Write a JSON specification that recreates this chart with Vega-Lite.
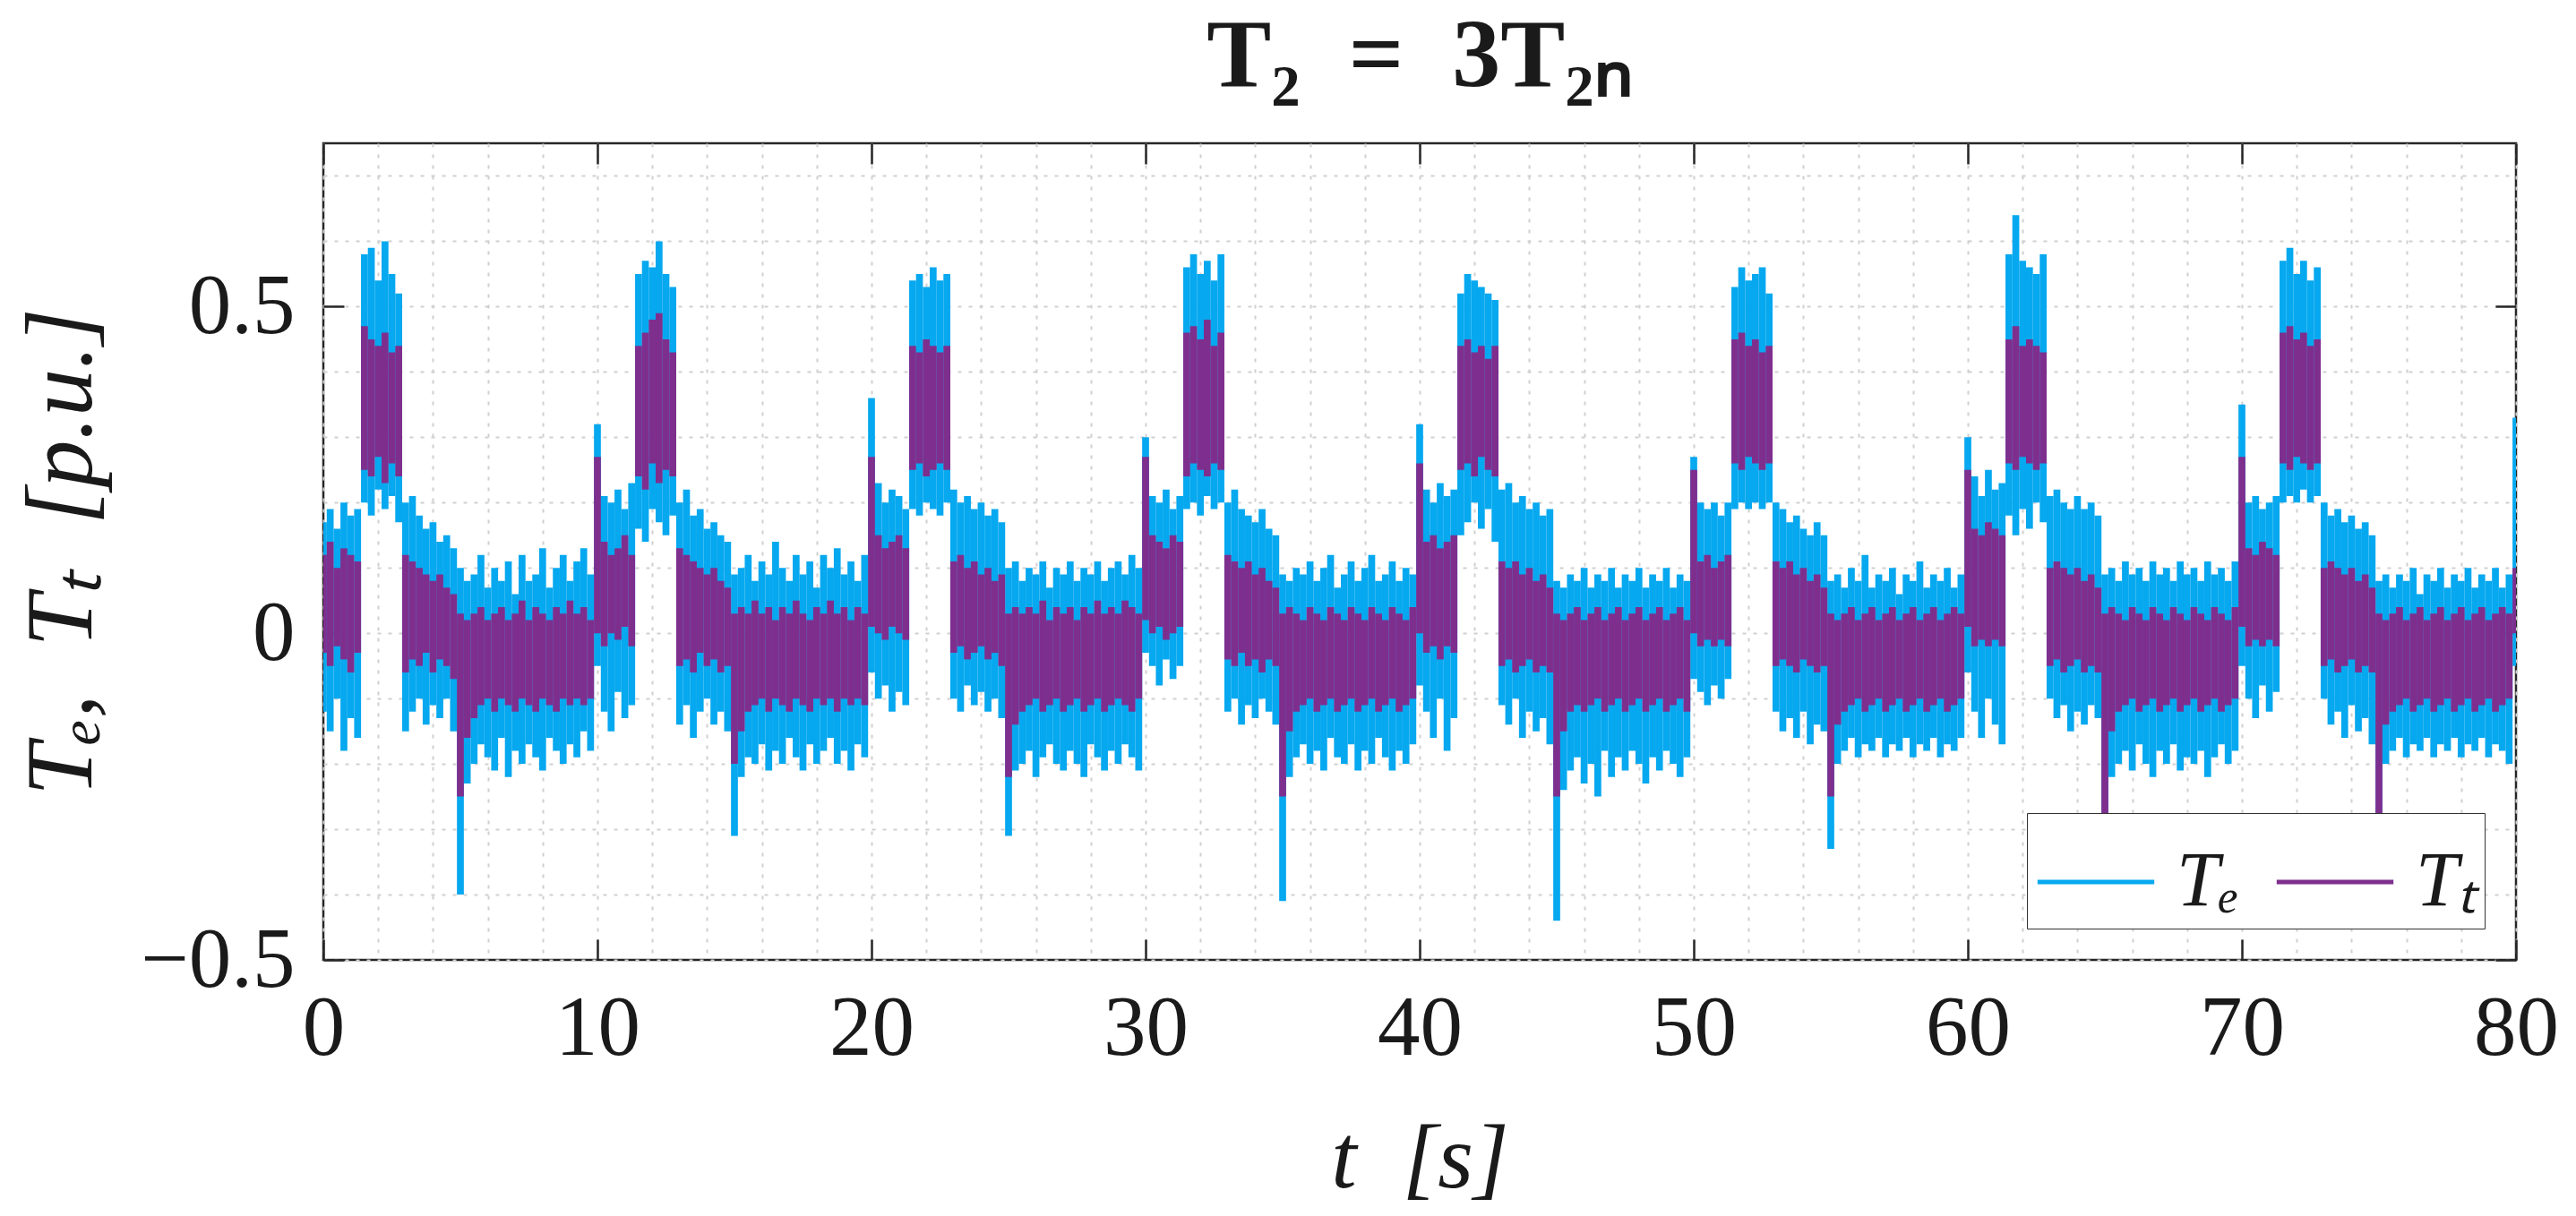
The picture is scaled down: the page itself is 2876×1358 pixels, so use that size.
{
  "$schema": "https://vega.github.io/schema/vega-lite/v6.json",
  "description": "Te and Tt torque traces, T2 = 3T2N",
  "width": 2448,
  "height": 912,
  "autosize": {"type": "none"},
  "padding": {"left": 361, "top": 160, "right": 67, "bottom": 286},
  "background": "white",
  "config": {
    "view": {"stroke": "#262626", "strokeWidth": 2.5},
    "font": "Liberation Serif"
  },
  "title": {
    "text": "T₂\u00a0\u00a0=\u00a0\u00a03T₂ₙ",
    "font": "Liberation Serif",
    "fontSize": 108,
    "fontWeight": "bold",
    "color": "#1a1a1a",
    "anchor": "middle",
    "frame": "group",
    "offset": 30
  },
  "data": {
    "values": [
      {"t":0,"a":-0.12,"b":0.17,"c":-0.03,"d":0.12},
      {"t":0.25,"a":-0.15,"b":0.19,"c":-0.05,"d":0.14},
      {"t":0.5,"a":-0.1,"b":0.16,"c":-0.02,"d":0.1},
      {"t":0.75,"a":-0.18,"b":0.2,"c":-0.04,"d":0.13},
      {"t":1,"a":-0.13,"b":0.18,"c":-0.06,"d":0.12},
      {"t":1.25,"a":-0.16,"b":0.19,"c":-0.03,"d":0.11},
      {"t":1.5,"a":0.2,"b":0.58,"c":0.25,"d":0.47},
      {"t":1.75,"a":0.18,"b":0.59,"c":0.24,"d":0.45},
      {"t":2,"a":0.22,"b":0.54,"c":0.27,"d":0.44},
      {"t":2.25,"a":0.19,"b":0.6,"c":0.23,"d":0.46},
      {"t":2.5,"a":0.21,"b":0.55,"c":0.26,"d":0.43},
      {"t":2.75,"a":0.17,"b":0.52,"c":0.24,"d":0.44},
      {"t":3,"a":-0.15,"b":0.2,"c":-0.06,"d":0.12},
      {"t":3.25,"a":-0.12,"b":0.21,"c":-0.04,"d":0.11},
      {"t":3.5,"a":-0.1,"b":0.18,"c":-0.05,"d":0.1},
      {"t":3.75,"a":-0.14,"b":0.16,"c":-0.03,"d":0.09},
      {"t":4,"a":-0.11,"b":0.17,"c":-0.06,"d":0.08},
      {"t":4.25,"a":-0.13,"b":0.14,"c":-0.04,"d":0.09},
      {"t":4.5,"a":-0.1,"b":0.15,"c":-0.05,"d":0.07},
      {"t":4.75,"a":-0.15,"b":0.13,"c":-0.07,"d":0.06},
      {"t":5,"a":-0.4,"b":0.1,"c":-0.25,"d":0.03},
      {"t":5.25,"a":-0.23,"b":0.08,"c":-0.16,"d":0.02},
      {"t":5.5,"a":-0.2,"b":0.09,"c":-0.13,"d":0.03},
      {"t":5.75,"a":-0.17,"b":0.12,"c":-0.11,"d":0.04},
      {"t":6,"a":-0.19,"b":0.07,"c":-0.1,"d":0.02},
      {"t":6.25,"a":-0.21,"b":0.1,"c":-0.12,"d":0.03},
      {"t":6.5,"a":-0.16,"b":0.08,"c":-0.1,"d":0.04},
      {"t":6.75,"a":-0.22,"b":0.11,"c":-0.11,"d":0.02},
      {"t":7,"a":-0.18,"b":0.06,"c":-0.12,"d":0.03},
      {"t":7.25,"a":-0.2,"b":0.12,"c":-0.1,"d":0.05},
      {"t":7.5,"a":-0.17,"b":0.08,"c":-0.11,"d":0.02},
      {"t":7.75,"a":-0.19,"b":0.09,"c":-0.12,"d":0.04},
      {"t":8,"a":-0.21,"b":0.13,"c":-0.1,"d":0.03},
      {"t":8.25,"a":-0.16,"b":0.07,"c":-0.11,"d":0.02},
      {"t":8.5,"a":-0.18,"b":0.1,"c":-0.12,"d":0.04},
      {"t":8.75,"a":-0.2,"b":0.12,"c":-0.1,"d":0.03},
      {"t":9,"a":-0.17,"b":0.08,"c":-0.11,"d":0.05},
      {"t":9.25,"a":-0.19,"b":0.11,"c":-0.1,"d":0.03},
      {"t":9.5,"a":-0.15,"b":0.13,"c":-0.11,"d":0.04},
      {"t":9.75,"a":-0.18,"b":0.09,"c":-0.1,"d":0.02},
      {"t":10,"a":-0.05,"b":0.32,"c":0,"d":0.27},
      {"t":10.25,"a":-0.12,"b":0.21,"c":-0.02,"d":0.14},
      {"t":10.5,"a":-0.15,"b":0.2,"c":0,"d":0.12},
      {"t":10.75,"a":-0.09,"b":0.22,"c":-0.01,"d":0.13},
      {"t":11,"a":-0.13,"b":0.19,"c":0.01,"d":0.15},
      {"t":11.25,"a":-0.11,"b":0.23,"c":-0.02,"d":0.12},
      {"t":11.5,"a":0.16,"b":0.55,"c":0.24,"d":0.44},
      {"t":11.75,"a":0.14,"b":0.57,"c":0.22,"d":0.46},
      {"t":12,"a":0.19,"b":0.56,"c":0.26,"d":0.48},
      {"t":12.25,"a":0.17,"b":0.6,"c":0.23,"d":0.49},
      {"t":12.5,"a":0.15,"b":0.55,"c":0.25,"d":0.45},
      {"t":12.75,"a":0.18,"b":0.53,"c":0.24,"d":0.43},
      {"t":13,"a":-0.14,"b":0.2,"c":-0.05,"d":0.13},
      {"t":13.25,"a":-0.11,"b":0.22,"c":-0.04,"d":0.12},
      {"t":13.5,"a":-0.16,"b":0.18,"c":-0.06,"d":0.11},
      {"t":13.75,"a":-0.12,"b":0.19,"c":-0.03,"d":0.1},
      {"t":14,"a":-0.1,"b":0.16,"c":-0.05,"d":0.09},
      {"t":14.25,"a":-0.14,"b":0.17,"c":-0.04,"d":0.1},
      {"t":14.5,"a":-0.12,"b":0.15,"c":-0.06,"d":0.08},
      {"t":14.75,"a":-0.15,"b":0.14,"c":-0.05,"d":0.07},
      {"t":15,"a":-0.31,"b":0.09,"c":-0.2,"d":0.03},
      {"t":15.25,"a":-0.22,"b":0.1,"c":-0.15,"d":0.04},
      {"t":15.5,"a":-0.19,"b":0.12,"c":-0.12,"d":0.03},
      {"t":15.75,"a":-0.2,"b":0.08,"c":-0.11,"d":0.05},
      {"t":16,"a":-0.17,"b":0.11,"c":-0.1,"d":0.03},
      {"t":16.25,"a":-0.21,"b":0.09,"c":-0.12,"d":0.04},
      {"t":16.5,"a":-0.18,"b":0.14,"c":-0.1,"d":0.02},
      {"t":16.75,"a":-0.2,"b":0.1,"c":-0.11,"d":0.04},
      {"t":17,"a":-0.16,"b":0.08,"c":-0.12,"d":0.03},
      {"t":17.25,"a":-0.19,"b":0.12,"c":-0.1,"d":0.05},
      {"t":17.5,"a":-0.21,"b":0.09,"c":-0.11,"d":0.03},
      {"t":17.75,"a":-0.17,"b":0.11,"c":-0.12,"d":0.02},
      {"t":18,"a":-0.2,"b":0.07,"c":-0.1,"d":0.04},
      {"t":18.25,"a":-0.18,"b":0.12,"c":-0.11,"d":0.03},
      {"t":18.5,"a":-0.16,"b":0.1,"c":-0.1,"d":0.05},
      {"t":18.75,"a":-0.2,"b":0.13,"c":-0.12,"d":0.03},
      {"t":19,"a":-0.18,"b":0.09,"c":-0.1,"d":0.04},
      {"t":19.25,"a":-0.21,"b":0.11,"c":-0.11,"d":0.02},
      {"t":19.5,"a":-0.17,"b":0.08,"c":-0.1,"d":0.04},
      {"t":19.75,"a":-0.19,"b":0.12,"c":-0.11,"d":0.03},
      {"t":20,"a":-0.06,"b":0.36,"c":0.01,"d":0.27},
      {"t":20.25,"a":-0.1,"b":0.23,"c":0,"d":0.15},
      {"t":20.5,"a":-0.08,"b":0.2,"c":-0.01,"d":0.13},
      {"t":20.75,"a":-0.12,"b":0.22,"c":0.01,"d":0.14},
      {"t":21,"a":-0.09,"b":0.21,"c":0,"d":0.15},
      {"t":21.25,"a":-0.11,"b":0.19,"c":-0.01,"d":0.13},
      {"t":21.5,"a":0.19,"b":0.54,"c":0.25,"d":0.44},
      {"t":21.75,"a":0.18,"b":0.55,"c":0.26,"d":0.43},
      {"t":22,"a":0.2,"b":0.53,"c":0.24,"d":0.45},
      {"t":22.25,"a":0.19,"b":0.56,"c":0.25,"d":0.44},
      {"t":22.5,"a":0.18,"b":0.54,"c":0.26,"d":0.43},
      {"t":22.75,"a":0.2,"b":0.55,"c":0.25,"d":0.44},
      {"t":23,"a":-0.1,"b":0.22,"c":-0.03,"d":0.11},
      {"t":23.25,"a":-0.12,"b":0.2,"c":-0.02,"d":0.12},
      {"t":23.5,"a":-0.08,"b":0.21,"c":-0.04,"d":0.1},
      {"t":23.75,"a":-0.11,"b":0.19,"c":-0.03,"d":0.11},
      {"t":24,"a":-0.09,"b":0.2,"c":-0.02,"d":0.09},
      {"t":24.25,"a":-0.12,"b":0.18,"c":-0.04,"d":0.1},
      {"t":24.5,"a":-0.1,"b":0.19,"c":-0.03,"d":0.08},
      {"t":24.75,"a":-0.13,"b":0.17,"c":-0.05,"d":0.09},
      {"t":25,"a":-0.31,"b":0.1,"c":-0.22,"d":0.03},
      {"t":25.25,"a":-0.21,"b":0.11,"c":-0.14,"d":0.04},
      {"t":25.5,"a":-0.2,"b":0.08,"c":-0.12,"d":0.03},
      {"t":25.75,"a":-0.18,"b":0.1,"c":-0.11,"d":0.04},
      {"t":26,"a":-0.22,"b":0.09,"c":-0.1,"d":0.03},
      {"t":26.25,"a":-0.19,"b":0.11,"c":-0.12,"d":0.05},
      {"t":26.5,"a":-0.17,"b":0.07,"c":-0.11,"d":0.02},
      {"t":26.75,"a":-0.2,"b":0.1,"c":-0.1,"d":0.04},
      {"t":27,"a":-0.21,"b":0.09,"c":-0.12,"d":0.03},
      {"t":27.25,"a":-0.18,"b":0.11,"c":-0.11,"d":0.04},
      {"t":27.5,"a":-0.2,"b":0.08,"c":-0.1,"d":0.02},
      {"t":27.75,"a":-0.22,"b":0.1,"c":-0.12,"d":0.04},
      {"t":28,"a":-0.17,"b":0.09,"c":-0.11,"d":0.03},
      {"t":28.25,"a":-0.19,"b":0.11,"c":-0.1,"d":0.05},
      {"t":28.5,"a":-0.21,"b":0.08,"c":-0.12,"d":0.03},
      {"t":28.75,"a":-0.18,"b":0.1,"c":-0.11,"d":0.04},
      {"t":29,"a":-0.2,"b":0.11,"c":-0.1,"d":0.03},
      {"t":29.25,"a":-0.17,"b":0.09,"c":-0.11,"d":0.05},
      {"t":29.5,"a":-0.19,"b":0.12,"c":-0.12,"d":0.04},
      {"t":29.75,"a":-0.21,"b":0.1,"c":-0.1,"d":0.03},
      {"t":30,"a":-0.03,"b":0.3,"c":0.02,"d":0.27},
      {"t":30.25,"a":-0.05,"b":0.21,"c":0,"d":0.15},
      {"t":30.5,"a":-0.08,"b":0.2,"c":0.01,"d":0.14},
      {"t":30.75,"a":-0.04,"b":0.22,"c":-0.01,"d":0.13},
      {"t":31,"a":-0.07,"b":0.19,"c":0,"d":0.15},
      {"t":31.25,"a":-0.05,"b":0.21,"c":0.01,"d":0.14},
      {"t":31.5,"a":0.19,"b":0.56,"c":0.24,"d":0.46},
      {"t":31.75,"a":0.2,"b":0.58,"c":0.26,"d":0.47},
      {"t":32,"a":0.18,"b":0.55,"c":0.25,"d":0.45},
      {"t":32.25,"a":0.21,"b":0.57,"c":0.24,"d":0.48},
      {"t":32.5,"a":0.19,"b":0.54,"c":0.26,"d":0.44},
      {"t":32.75,"a":0.2,"b":0.58,"c":0.25,"d":0.46},
      {"t":33,"a":-0.12,"b":0.2,"c":-0.04,"d":0.12},
      {"t":33.25,"a":-0.1,"b":0.22,"c":-0.05,"d":0.11},
      {"t":33.5,"a":-0.14,"b":0.19,"c":-0.03,"d":0.1},
      {"t":33.75,"a":-0.11,"b":0.18,"c":-0.05,"d":0.11},
      {"t":34,"a":-0.13,"b":0.17,"c":-0.04,"d":0.09},
      {"t":34.25,"a":-0.1,"b":0.19,"c":-0.06,"d":0.1},
      {"t":34.5,"a":-0.12,"b":0.16,"c":-0.04,"d":0.08},
      {"t":34.75,"a":-0.14,"b":0.15,"c":-0.05,"d":0.07},
      {"t":35,"a":-0.41,"b":0.09,"c":-0.25,"d":0.03},
      {"t":35.25,"a":-0.22,"b":0.08,"c":-0.15,"d":0.04},
      {"t":35.5,"a":-0.19,"b":0.1,"c":-0.12,"d":0.03},
      {"t":35.75,"a":-0.17,"b":0.09,"c":-0.11,"d":0.02},
      {"t":36,"a":-0.2,"b":0.11,"c":-0.1,"d":0.04},
      {"t":36.25,"a":-0.18,"b":0.08,"c":-0.12,"d":0.03},
      {"t":36.5,"a":-0.21,"b":0.1,"c":-0.11,"d":0.02},
      {"t":36.75,"a":-0.16,"b":0.12,"c":-0.1,"d":0.04},
      {"t":37,"a":-0.19,"b":0.07,"c":-0.12,"d":0.03},
      {"t":37.25,"a":-0.2,"b":0.09,"c":-0.11,"d":0.02},
      {"t":37.5,"a":-0.17,"b":0.11,"c":-0.1,"d":0.04},
      {"t":37.75,"a":-0.21,"b":0.08,"c":-0.12,"d":0.03},
      {"t":38,"a":-0.18,"b":0.1,"c":-0.11,"d":0.02},
      {"t":38.25,"a":-0.2,"b":0.12,"c":-0.1,"d":0.04},
      {"t":38.5,"a":-0.16,"b":0.08,"c":-0.12,"d":0.03},
      {"t":38.75,"a":-0.19,"b":0.09,"c":-0.11,"d":0.02},
      {"t":39,"a":-0.21,"b":0.11,"c":-0.1,"d":0.04},
      {"t":39.25,"a":-0.18,"b":0.08,"c":-0.12,"d":0.03},
      {"t":39.5,"a":-0.2,"b":0.1,"c":-0.11,"d":0.02},
      {"t":39.75,"a":-0.17,"b":0.09,"c":-0.1,"d":0.04},
      {"t":40,"a":-0.08,"b":0.32,"c":0,"d":0.26},
      {"t":40.25,"a":-0.12,"b":0.22,"c":-0.03,"d":0.14},
      {"t":40.5,"a":-0.16,"b":0.2,"c":-0.02,"d":0.15},
      {"t":40.75,"a":-0.1,"b":0.23,"c":-0.04,"d":0.13},
      {"t":41,"a":-0.18,"b":0.21,"c":-0.02,"d":0.14},
      {"t":41.25,"a":-0.13,"b":0.22,"c":-0.03,"d":0.15},
      {"t":41.5,"a":0.15,"b":0.52,"c":0.25,"d":0.44},
      {"t":41.75,"a":0.17,"b":0.55,"c":0.26,"d":0.45},
      {"t":42,"a":0.2,"b":0.54,"c":0.24,"d":0.43},
      {"t":42.25,"a":0.16,"b":0.53,"c":0.27,"d":0.44},
      {"t":42.5,"a":0.19,"b":0.52,"c":0.25,"d":0.42},
      {"t":42.75,"a":0.14,"b":0.51,"c":0.24,"d":0.44},
      {"t":43,"a":-0.11,"b":0.22,"c":-0.05,"d":0.11},
      {"t":43.25,"a":-0.14,"b":0.23,"c":-0.04,"d":0.1},
      {"t":43.5,"a":-0.1,"b":0.2,"c":-0.06,"d":0.11},
      {"t":43.75,"a":-0.16,"b":0.21,"c":-0.05,"d":0.09},
      {"t":44,"a":-0.12,"b":0.19,"c":-0.04,"d":0.1},
      {"t":44.25,"a":-0.15,"b":0.2,"c":-0.06,"d":0.08},
      {"t":44.5,"a":-0.13,"b":0.18,"c":-0.05,"d":0.09},
      {"t":44.75,"a":-0.17,"b":0.19,"c":-0.06,"d":0.07},
      {"t":45,"a":-0.44,"b":0.08,"c":-0.25,"d":0.03},
      {"t":45.25,"a":-0.24,"b":0.07,"c":-0.15,"d":0.02},
      {"t":45.5,"a":-0.21,"b":0.09,"c":-0.12,"d":0.03},
      {"t":45.75,"a":-0.19,"b":0.08,"c":-0.11,"d":0.04},
      {"t":46,"a":-0.23,"b":0.1,"c":-0.12,"d":0.02},
      {"t":46.25,"a":-0.2,"b":0.07,"c":-0.11,"d":0.03},
      {"t":46.5,"a":-0.25,"b":0.09,"c":-0.1,"d":0.04},
      {"t":46.75,"a":-0.18,"b":0.08,"c":-0.12,"d":0.02},
      {"t":47,"a":-0.22,"b":0.1,"c":-0.11,"d":0.03},
      {"t":47.25,"a":-0.19,"b":0.07,"c":-0.1,"d":0.04},
      {"t":47.5,"a":-0.21,"b":0.09,"c":-0.12,"d":0.02},
      {"t":47.75,"a":-0.18,"b":0.08,"c":-0.11,"d":0.03},
      {"t":48,"a":-0.2,"b":0.1,"c":-0.1,"d":0.04},
      {"t":48.25,"a":-0.23,"b":0.07,"c":-0.12,"d":0.02},
      {"t":48.5,"a":-0.19,"b":0.09,"c":-0.11,"d":0.03},
      {"t":48.75,"a":-0.21,"b":0.08,"c":-0.1,"d":0.04},
      {"t":49,"a":-0.18,"b":0.1,"c":-0.12,"d":0.02},
      {"t":49.25,"a":-0.2,"b":0.07,"c":-0.11,"d":0.03},
      {"t":49.5,"a":-0.22,"b":0.09,"c":-0.1,"d":0.04},
      {"t":49.75,"a":-0.19,"b":0.08,"c":-0.12,"d":0.02},
      {"t":50,"a":-0.07,"b":0.27,"c":0,"d":0.25},
      {"t":50.25,"a":-0.09,"b":0.2,"c":-0.02,"d":0.11},
      {"t":50.5,"a":-0.11,"b":0.19,"c":-0.01,"d":0.12},
      {"t":50.75,"a":-0.08,"b":0.2,"c":-0.02,"d":0.1},
      {"t":51,"a":-0.1,"b":0.18,"c":-0.01,"d":0.11},
      {"t":51.25,"a":-0.07,"b":0.2,"c":-0.02,"d":0.12},
      {"t":51.5,"a":0.19,"b":0.53,"c":0.26,"d":0.45},
      {"t":51.75,"a":0.2,"b":0.56,"c":0.25,"d":0.46},
      {"t":52,"a":0.19,"b":0.54,"c":0.27,"d":0.44},
      {"t":52.25,"a":0.2,"b":0.55,"c":0.26,"d":0.45},
      {"t":52.5,"a":0.19,"b":0.56,"c":0.25,"d":0.43},
      {"t":52.75,"a":0.2,"b":0.52,"c":0.26,"d":0.44},
      {"t":53,"a":-0.12,"b":0.2,"c":-0.05,"d":0.11},
      {"t":53.25,"a":-0.15,"b":0.19,"c":-0.04,"d":0.1},
      {"t":53.5,"a":-0.13,"b":0.17,"c":-0.05,"d":0.11},
      {"t":53.75,"a":-0.16,"b":0.18,"c":-0.06,"d":0.09},
      {"t":54,"a":-0.12,"b":0.16,"c":-0.04,"d":0.1},
      {"t":54.25,"a":-0.17,"b":0.15,"c":-0.05,"d":0.08},
      {"t":54.5,"a":-0.14,"b":0.17,"c":-0.06,"d":0.09},
      {"t":54.75,"a":-0.15,"b":0.15,"c":-0.05,"d":0.07},
      {"t":55,"a":-0.33,"b":0.08,"c":-0.25,"d":0.03},
      {"t":55.25,"a":-0.2,"b":0.09,"c":-0.14,"d":0.02},
      {"t":55.5,"a":-0.18,"b":0.07,"c":-0.12,"d":0.03},
      {"t":55.75,"a":-0.16,"b":0.1,"c":-0.11,"d":0.04},
      {"t":56,"a":-0.19,"b":0.08,"c":-0.1,"d":0.02},
      {"t":56.25,"a":-0.17,"b":0.12,"c":-0.12,"d":0.03},
      {"t":56.5,"a":-0.18,"b":0.07,"c":-0.11,"d":0.04},
      {"t":56.75,"a":-0.16,"b":0.09,"c":-0.1,"d":0.02},
      {"t":57,"a":-0.19,"b":0.08,"c":-0.12,"d":0.03},
      {"t":57.25,"a":-0.17,"b":0.1,"c":-0.11,"d":0.04},
      {"t":57.5,"a":-0.18,"b":0.06,"c":-0.1,"d":0.02},
      {"t":57.75,"a":-0.16,"b":0.09,"c":-0.12,"d":0.03},
      {"t":58,"a":-0.19,"b":0.08,"c":-0.11,"d":0.04},
      {"t":58.25,"a":-0.17,"b":0.11,"c":-0.1,"d":0.02},
      {"t":58.5,"a":-0.18,"b":0.07,"c":-0.12,"d":0.03},
      {"t":58.75,"a":-0.16,"b":0.09,"c":-0.11,"d":0.04},
      {"t":59,"a":-0.19,"b":0.08,"c":-0.1,"d":0.02},
      {"t":59.25,"a":-0.17,"b":0.1,"c":-0.12,"d":0.03},
      {"t":59.5,"a":-0.18,"b":0.07,"c":-0.11,"d":0.04},
      {"t":59.75,"a":-0.16,"b":0.09,"c":-0.1,"d":0.03},
      {"t":60,"a":-0.06,"b":0.3,"c":0.01,"d":0.25},
      {"t":60.25,"a":-0.12,"b":0.24,"c":-0.02,"d":0.16},
      {"t":60.5,"a":-0.16,"b":0.21,"c":-0.01,"d":0.15},
      {"t":60.75,"a":-0.1,"b":0.25,"c":-0.02,"d":0.17},
      {"t":61,"a":-0.14,"b":0.22,"c":-0.01,"d":0.16},
      {"t":61.25,"a":-0.17,"b":0.23,"c":-0.02,"d":0.15},
      {"t":61.5,"a":0.18,"b":0.58,"c":0.26,"d":0.45},
      {"t":61.75,"a":0.15,"b":0.64,"c":0.25,"d":0.47},
      {"t":62,"a":0.19,"b":0.57,"c":0.27,"d":0.44},
      {"t":62.25,"a":0.16,"b":0.56,"c":0.26,"d":0.45},
      {"t":62.5,"a":0.2,"b":0.55,"c":0.25,"d":0.44},
      {"t":62.75,"a":0.17,"b":0.58,"c":0.26,"d":0.43},
      {"t":63,"a":-0.1,"b":0.21,"c":-0.05,"d":0.1},
      {"t":63.25,"a":-0.13,"b":0.22,"c":-0.04,"d":0.11},
      {"t":63.5,"a":-0.11,"b":0.2,"c":-0.06,"d":0.1},
      {"t":63.75,"a":-0.15,"b":0.19,"c":-0.05,"d":0.09},
      {"t":64,"a":-0.12,"b":0.21,"c":-0.04,"d":0.1},
      {"t":64.25,"a":-0.14,"b":0.19,"c":-0.06,"d":0.08},
      {"t":64.5,"a":-0.11,"b":0.2,"c":-0.05,"d":0.09},
      {"t":64.75,"a":-0.13,"b":0.18,"c":-0.06,"d":0.07},
      {"t":65,"a":-0.3,"b":0.09,"c":-0.28,"d":0.03},
      {"t":65.25,"a":-0.22,"b":0.1,"c":-0.15,"d":0.04},
      {"t":65.5,"a":-0.2,"b":0.08,"c":-0.12,"d":0.03},
      {"t":65.75,"a":-0.18,"b":0.11,"c":-0.11,"d":0.02},
      {"t":66,"a":-0.21,"b":0.09,"c":-0.1,"d":0.04},
      {"t":66.25,"a":-0.17,"b":0.1,"c":-0.12,"d":0.03},
      {"t":66.5,"a":-0.2,"b":0.08,"c":-0.11,"d":0.02},
      {"t":66.75,"a":-0.22,"b":0.11,"c":-0.1,"d":0.04},
      {"t":67,"a":-0.18,"b":0.09,"c":-0.12,"d":0.03},
      {"t":67.25,"a":-0.2,"b":0.1,"c":-0.11,"d":0.02},
      {"t":67.5,"a":-0.17,"b":0.08,"c":-0.1,"d":0.04},
      {"t":67.75,"a":-0.21,"b":0.11,"c":-0.12,"d":0.03},
      {"t":68,"a":-0.19,"b":0.09,"c":-0.11,"d":0.02},
      {"t":68.25,"a":-0.2,"b":0.1,"c":-0.1,"d":0.04},
      {"t":68.5,"a":-0.18,"b":0.08,"c":-0.12,"d":0.03},
      {"t":68.75,"a":-0.22,"b":0.11,"c":-0.11,"d":0.02},
      {"t":69,"a":-0.19,"b":0.09,"c":-0.1,"d":0.04},
      {"t":69.25,"a":-0.17,"b":0.1,"c":-0.12,"d":0.03},
      {"t":69.5,"a":-0.2,"b":0.08,"c":-0.11,"d":0.02},
      {"t":69.75,"a":-0.18,"b":0.11,"c":-0.1,"d":0.04},
      {"t":70,"a":-0.05,"b":0.35,"c":0.01,"d":0.27},
      {"t":70.25,"a":-0.1,"b":0.2,"c":-0.02,"d":0.13},
      {"t":70.5,"a":-0.13,"b":0.21,"c":-0.01,"d":0.12},
      {"t":70.75,"a":-0.08,"b":0.19,"c":-0.02,"d":0.14},
      {"t":71,"a":-0.12,"b":0.2,"c":-0.01,"d":0.13},
      {"t":71.25,"a":-0.09,"b":0.21,"c":-0.02,"d":0.12},
      {"t":71.5,"a":0.2,"b":0.57,"c":0.26,"d":0.46},
      {"t":71.75,"a":0.21,"b":0.59,"c":0.25,"d":0.47},
      {"t":72,"a":0.2,"b":0.55,"c":0.27,"d":0.45},
      {"t":72.25,"a":0.22,"b":0.57,"c":0.26,"d":0.46},
      {"t":72.5,"a":0.2,"b":0.54,"c":0.25,"d":0.44},
      {"t":72.75,"a":0.21,"b":0.56,"c":0.26,"d":0.45},
      {"t":73,"a":-0.1,"b":0.2,"c":-0.05,"d":0.1},
      {"t":73.25,"a":-0.14,"b":0.18,"c":-0.04,"d":0.11},
      {"t":73.5,"a":-0.12,"b":0.19,"c":-0.06,"d":0.1},
      {"t":73.75,"a":-0.16,"b":0.17,"c":-0.05,"d":0.09},
      {"t":74,"a":-0.11,"b":0.18,"c":-0.04,"d":0.1},
      {"t":74.25,"a":-0.15,"b":0.16,"c":-0.06,"d":0.08},
      {"t":74.5,"a":-0.13,"b":0.17,"c":-0.05,"d":0.09},
      {"t":74.75,"a":-0.17,"b":0.15,"c":-0.06,"d":0.07},
      {"t":75,"a":-0.3,"b":0.08,"c":-0.28,"d":0.03},
      {"t":75.25,"a":-0.2,"b":0.09,"c":-0.14,"d":0.02},
      {"t":75.5,"a":-0.18,"b":0.07,"c":-0.12,"d":0.03},
      {"t":75.75,"a":-0.16,"b":0.09,"c":-0.11,"d":0.04},
      {"t":76,"a":-0.19,"b":0.08,"c":-0.1,"d":0.02},
      {"t":76.25,"a":-0.17,"b":0.1,"c":-0.12,"d":0.03},
      {"t":76.5,"a":-0.18,"b":0.06,"c":-0.11,"d":0.04},
      {"t":76.75,"a":-0.16,"b":0.09,"c":-0.1,"d":0.02},
      {"t":77,"a":-0.19,"b":0.08,"c":-0.12,"d":0.03},
      {"t":77.25,"a":-0.17,"b":0.1,"c":-0.11,"d":0.04},
      {"t":77.5,"a":-0.18,"b":0.07,"c":-0.1,"d":0.02},
      {"t":77.75,"a":-0.16,"b":0.09,"c":-0.12,"d":0.03},
      {"t":78,"a":-0.19,"b":0.08,"c":-0.11,"d":0.04},
      {"t":78.25,"a":-0.17,"b":0.1,"c":-0.1,"d":0.02},
      {"t":78.5,"a":-0.18,"b":0.07,"c":-0.12,"d":0.03},
      {"t":78.75,"a":-0.16,"b":0.09,"c":-0.11,"d":0.04},
      {"t":79,"a":-0.19,"b":0.08,"c":-0.1,"d":0.02},
      {"t":79.25,"a":-0.17,"b":0.1,"c":-0.12,"d":0.03},
      {"t":79.5,"a":-0.18,"b":0.07,"c":-0.11,"d":0.04},
      {"t":79.75,"a":-0.2,"b":0.09,"c":-0.1,"d":0.03},
      {"t":80,"a":-0.05,"b":0.33,"c":0,"d":0.1}
    ]
  },
  "layer": [
    {
      "mark": {"type": "rule", "strokeWidth": 7.7, "clip": true},
      "encoding": {
        "x": {
          "field": "t",
          "type": "quantitative",
          "scale": {"domain": [0, 80], "nice": false},
          "axis": {
            "orient": "bottom",
            "values": [0,2,4,6,8,10,12,14,16,18,20,22,24,26,28,30,32,34,36,38,40,42,44,46,48,50,52,54,56,58,60,62,64,66,68,70,72,74,76,78,80],
            "grid": true,
            "gridColor": "#d0d0d0",
            "gridDash": [4, 8],
            "gridWidth": 2,
            "domain": false,
            "tickSize": -23,
            "tickWidth": 2.5,
            "tickColor": "#262626",
            "tickOpacity": {"condition": {"test": "datum.value % 10 === 0", "value": 1}, "value": 0},
            "labelExpr": "datum.value % 10 === 0 ? datum.label : ''",
            "labelOverlap": false,
            "labelFlush": false,
            "labelFont": "Liberation Serif",
            "labelFontSize": 95,
            "labelColor": "#1a1a1a",
            "labelPadding": 53,
            "title": "t\u00a0\u00a0[s]",
            "titleFont": "Liberation Serif",
            "titleFontSize": 102,
            "titleFontStyle": "italic",
            "titleFontWeight": "normal",
            "titleColor": "#1a1a1a",
            "titlePadding": 48
          }
        },
        "y": {
          "field": "a",
          "type": "quantitative",
          "scale": {"domain": [-0.5, 0.75], "nice": false, "zero": false},
          "axis": {
            "orient": "left",
            "values": [-0.5,-0.4,-0.3,-0.2,-0.1,0,0.1,0.2,0.3,0.4,0.5,0.6,0.7],
            "format": ".1~f",
            "grid": true,
            "gridColor": "#d0d0d0",
            "gridDash": [4, 8],
            "gridWidth": 2,
            "domain": false,
            "tickSize": -23,
            "tickWidth": 2.5,
            "tickColor": "#262626",
            "tickOpacity": {"condition": {"test": "abs(datum.value * 2 - round(datum.value * 2)) < 0.001", "value": 1}, "value": 0},
            "labelExpr": "abs(datum.value * 2 - round(datum.value * 2)) < 0.001 ? datum.label : ''",
            "labelOverlap": false,
            "labelFlush": false,
            "labelFont": "Liberation Serif",
            "labelFontSize": 95,
            "labelColor": "#1a1a1a",
            "labelPadding": 55,
            "title": "Tₑ,\u00a0\u00a0Tₜ\u00a0\u00a0[p.u.]",
            "titleFont": "Liberation Serif",
            "titleFontSize": 106,
            "titleFontStyle": "italic",
            "titleFontWeight": "normal",
            "titleColor": "#1a1a1a",
            "titlePadding": 38
          }
        },
        "y2": {"field": "b"},
        "color": {
          "datum": "Tₑ",
          "type": "nominal",
          "scale": {"domain": ["Tₑ", "Tₜ"], "range": ["#06A8EF", "#7E2F8E"]},
          "legend": {
            "orient": "bottom-right",
            "direction": "horizontal",
            "title": null,
            "offset": 35,
            "symbolType": "stroke",
            "symbolSize": 17000,
            "symbolStrokeWidth": 5,
            "labelFont": "Liberation Serif",
            "labelFontStyle": "italic",
            "labelFontSize": 86,
            "labelColor": "#1a1a1a",
            "labelOffset": 22,
            "columnPadding": 30,
            "padding": 9,
            "strokeColor": "#333333",
            "fillColor": "white"
          }
        }
      }
    },
    {
      "mark": {"type": "rule", "strokeWidth": 7.7, "clip": true},
      "encoding": {
        "x": {
          "field": "t",
          "type": "quantitative",
          "axis": {
            "orient": "top",
            "values": [0,10,20,30,40,50,60,70,80],
            "grid": false,
            "domain": false,
            "labels": false,
            "tickSize": -23,
            "tickWidth": 2.5,
            "tickColor": "#262626",
            "title": null
          }
        },
        "y": {
          "field": "c",
          "type": "quantitative",
          "axis": {
            "orient": "right",
            "values": [-0.5, 0, 0.5],
            "grid": false,
            "domain": false,
            "labels": false,
            "tickSize": -23,
            "tickWidth": 2.5,
            "tickColor": "#262626",
            "title": null
          }
        },
        "y2": {"field": "d"},
        "color": {"datum": "Tₜ", "type": "nominal"}
      }
    }
  ],
  "resolve": {"axis": {"x": "independent", "y": "independent"}}
}
